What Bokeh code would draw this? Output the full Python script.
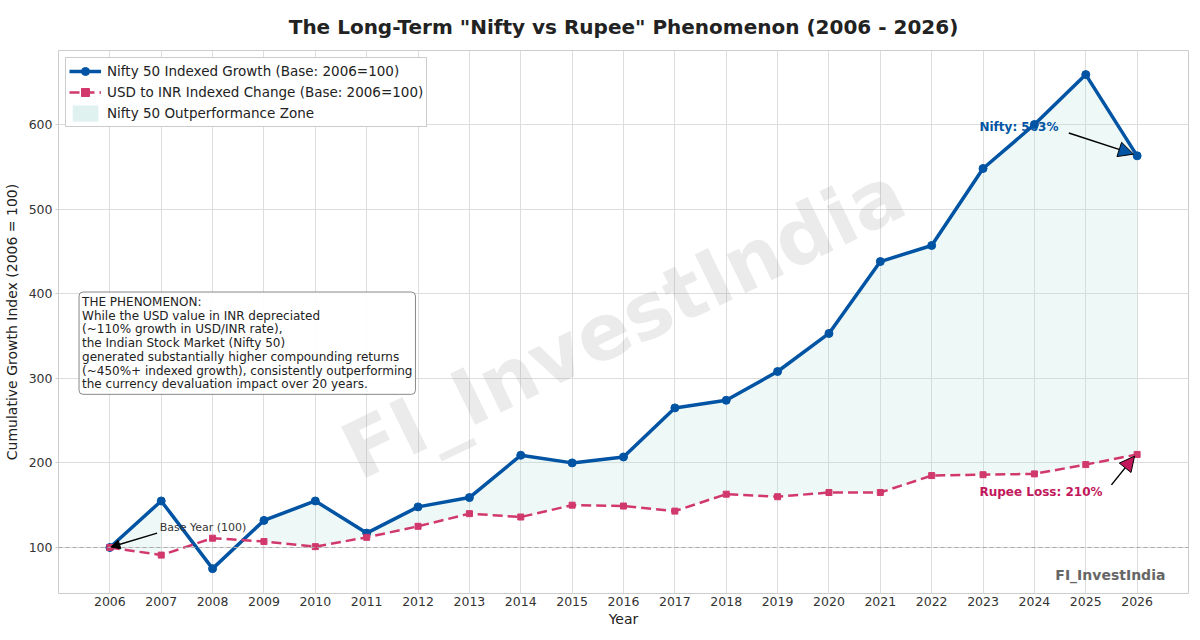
from bokeh.plotting import figure
from bokeh.models import Label, Arrow, NormalHead, Span, Range1d, FixedTicker, ColumnDataSource, LegendItem
from bokeh.embed import file_html
from bokeh.resources import INLINE

years = list(range(2006, 2027))
nifty = [100, 155, 75, 132, 155, 117, 148, 159, 209, 200, 207, 265, 274, 308, 353, 438, 457, 548, 600, 659, 563]
usd = [100, 91, 111, 107, 101, 112, 125, 140, 136, 150, 149, 143, 163, 160, 165, 165, 185, 186, 187, 198, 210]
y_ticks = [100, 200, 300, 400, 500, 600]

BLUE = "#0054A3"
PINK = "#D1386C"
CRIMSON = "#C2185B"
FONT = "DejaVu Sans"

p = figure(width=1190, height=640, output_backend="svg", toolbar_location=None,
           x_range=Range1d(2005, 2027), y_range=Range1d(45.6, 687.5),
           min_border_left=57, min_border_right=2, min_border_bottom=47, min_border_top=50)

p.title.text = 'The Long-Term "Nifty vs Rupee" Phenomenon (2006 - 2026)'
p.title.align = "center"
p.title.text_font = FONT
p.title.text_font_size = "20px"
p.title.text_font_style = "bold"
p.title.text_color = "#222222"
p.title.standoff = 23

p.outline_line_color = "#cccccc"
p.background_fill_color = "white"

for ax in (p.xaxis[0], p.yaxis[0]):
    ax.axis_line_color = None
    ax.major_tick_line_color = "#cccccc"
    ax.major_tick_in = 0
    ax.minor_tick_line_color = None
    ax.major_label_text_font = FONT
    ax.major_label_text_font_size = "12.5px"
    ax.major_label_text_color = "#333333"
    ax.axis_label_text_font = FONT
    ax.axis_label_text_font_size = "14px"
    ax.axis_label_text_font_style = "normal"
    ax.axis_label_text_color = "#222222"

p.xaxis.major_tick_out = 0
p.xaxis.major_label_standoff = 3
p.xaxis.axis_label_standoff = 2
p.yaxis.major_tick_out = 3
p.yaxis.major_label_standoff = 3
p.yaxis.axis_label_standoff = 6

p.xaxis.ticker = FixedTicker(ticks=years)
p.yaxis.ticker = FixedTicker(ticks=y_ticks)
p.xaxis.axis_label = "Year"
p.yaxis.axis_label = "Cumulative Growth Index (2006 = 100)"

p.xgrid.ticker = FixedTicker(ticks=years)
p.ygrid.ticker = FixedTicker(ticks=y_ticks)
p.grid.grid_line_color = "#dddddd"
p.grid.grid_line_width = 1

# Outperformance zone (where Nifty >= USD)
mask = [n >= u for n, u in zip(nifty, usd)]
runs = []
cur = []
for i, m in enumerate(mask):
    if m:
        cur.append(i)
    else:
        if len(cur) > 1:
            runs.append(cur)
        cur = []
if len(cur) > 1:
    runs.append(cur)
for r in runs:
    src = ColumnDataSource(dict(x=[years[i] for i in r], y1=[usd[i] for i in r], y2=[nifty[i] for i in r]))
    p.varea(x="x", y1="y1", y2="y2", source=src, fill_color="#b2dfdb", fill_alpha=0.22,
            legend_label="Nifty 50 Outperformance Zone")

# Base line
p.add_layout(Span(location=100, dimension="width", line_color="#aaaaaa", line_dash="4 3", line_width=1))

# Watermark
p.add_layout(Label(x=2016, y=366, text="FI_InvestIndia", text_align="center", text_baseline="middle",
                   angle=26, angle_units="deg", text_font=FONT, text_font_size="78px",
                   text_font_style="bold", text_color="#999999", text_alpha=0.2))

# Lines
rn = p.line(years, nifty, line_color=BLUE, line_width=3.5)
cn = p.scatter(years, nifty, marker="circle", size=8, fill_color=BLUE, line_color=BLUE)
ru = p.line(years, usd, line_color=PINK, line_width=2.5, line_dash="10 5")
cu = p.scatter(years, usd, marker="square", size=6, fill_color=PINK, line_color=PINK)

legend = p.legend[0]
items = list(legend.items)
legend.items = [LegendItem(label="Nifty 50 Indexed Growth (Base: 2006=100)", renderers=[rn, cn]),
                LegendItem(label="USD to INR Indexed Change (Base: 2006=100)", renderers=[ru, cu])] + items
legend.location = "top_left"
legend.margin = 7
legend.padding = 3
legend.spacing = 1
legend.label_standoff = 6
legend.label_text_font = FONT
legend.label_text_font_size = "13.5px"
legend.label_text_color = "#222222"
legend.label_height = 20
legend.glyph_height = 20
legend.glyph_width = 32
legend.border_line_color = "#999999"
legend.border_line_width = 1
legend.background_fill_alpha = 1

# Text box
box_text = ("THE PHENOMENON:\n"
            "While the USD value in INR depreciated\n"
            "(~110% growth in USD/INR rate),\n"
            "the Indian Stock Market (Nifty 50)\n"
            "generated substantially higher compounding returns\n"
            "(~450%+ indexed growth), consistently outperforming\n"
            "the currency devaluation impact over 20 years.")
p.add_layout(Label(x=2005.4, y=402, text=box_text, text_align="left", text_baseline="top",
                   text_font=FONT, text_font_size="12px", text_color="#222222", text_line_height=0.98,
                   background_fill_color="white", background_fill_alpha=0.9,
                   border_line_color="#888888", border_line_width=1, padding=3, border_radius=4))

# Annotations
p.add_layout(Arrow(x_start=2006.92, y_start=117, x_end=2006.02, y_end=100.5, line_color="black",
                   line_width=1.5, end=NormalHead(size=9, fill_color="black", line_color="black")))
p.add_layout(Label(x=2006.97, y=124, text="Base Year (100)", text_font=FONT, text_font_size="11px",
                   text_color="#333333", text_baseline="middle"))

p.add_layout(Arrow(x_start=2024.67, y_start=590, x_end=2025.93, y_end=565, line_color="black",
                   line_width=1.5, end=NormalHead(size=15, fill_color=BLUE, line_color="black")))
p.add_layout(Label(x=2022.93, y=597, text="Nifty: 563%", text_font=FONT, text_font_size="12px",
                   text_font_style="bold", text_color=BLUE, text_baseline="middle"))

p.add_layout(Arrow(x_start=2025.5, y_start=174, x_end=2025.95, y_end=208, line_color="black",
                   line_width=1.5, end=NormalHead(size=15, fill_color=CRIMSON, line_color="black")))
p.add_layout(Label(x=2022.93, y=165, text="Rupee Loss: 210%", text_font=FONT, text_font_size="12px",
                   text_font_style="bold", text_color=CRIMSON, text_baseline="middle"))

p.add_layout(Label(x=2026.55, y=68, text="FI_InvestIndia", text_align="right", text_baseline="middle",
                   text_font=FONT, text_font_size="14px", text_font_style="bold", text_color="#666666"))

open("out.html", "w").write(file_html(p, INLINE))
